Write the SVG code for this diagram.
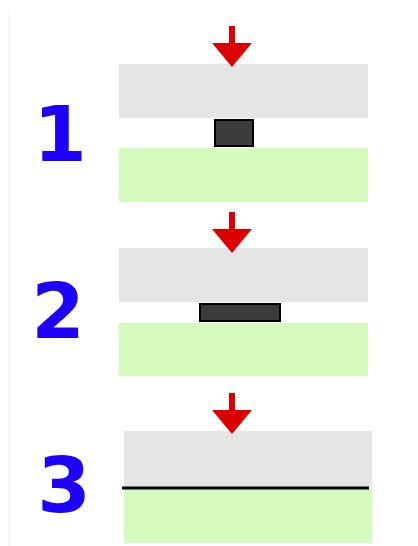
<svg xmlns="http://www.w3.org/2000/svg" width="418" height="546" viewBox="0 0 418 546">
<style>
.num{font-family:"DejaVu Sans",sans-serif;font-weight:bold;font-size:77px;fill:#1e00ff;text-anchor:middle}
.upper{fill:#e5e5e5}
.lower{fill:#d5fbbe}
.part{fill:#3c3c3c;stroke:#000;stroke-width:2}
.arrow{fill:#dd0000}
</style>
<defs>
<path id="arr" d="M-3,0 H3 V17 H20 L0,41 L-20,17 H-3 Z"/>
</defs>
<rect width="418" height="546" fill="#fff"/>
<line x1="9" y1="10" x2="9" y2="546" stroke="#ececec" stroke-width="1"/>
<g id="step1">
<rect class="upper" x="119" y="64" width="249" height="54"/>
<rect class="lower" x="119" y="148" width="249" height="54"/>
<rect class="part" x="215" y="120" width="38" height="26"/>
<use href="#arr" class="arrow" x="232" y="26"/>
<text class="num" x="60" y="161">1</text>
</g>
<g id="step2">
<rect class="upper" x="119" y="248" width="249" height="54"/>
<rect class="lower" x="119" y="323" width="249" height="53"/>
<rect class="part" x="200" y="304" width="80" height="17"/>
<use href="#arr" class="arrow" x="232" y="212"/>
<text class="num" x="58" y="338">2</text>
</g>
<g id="step3">
<rect class="upper" x="124" y="431" width="248" height="56"/>
<rect class="lower" x="124" y="489" width="248" height="54"/>
<line x1="122" y1="488" x2="369" y2="488" stroke="#000" stroke-width="3"/>
<use href="#arr" class="arrow" x="232" y="393"/>
<text class="num" x="64" y="512">3</text>
</g>
</svg>
